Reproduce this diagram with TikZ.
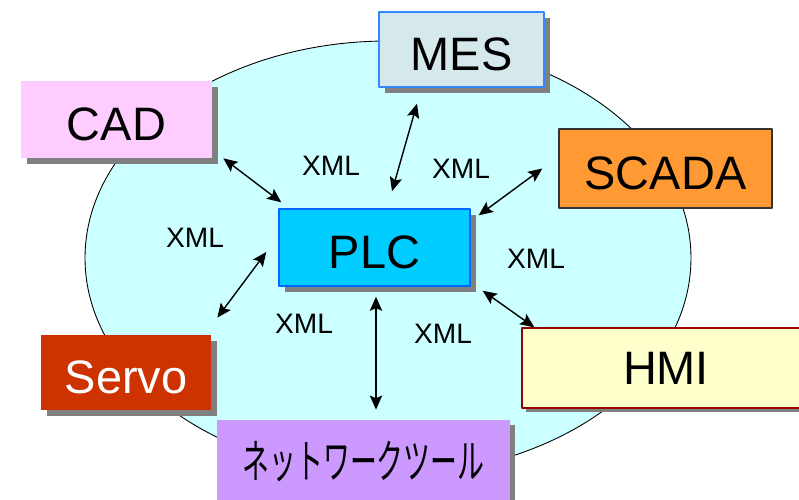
\documentclass[tikz,border=0pt]{standalone}
\usepackage{fontspec}
\setmainfont{Liberation Sans}
\newfontfamily\jpfont{Noto Sans CJK JP}
\usetikzlibrary{arrows.meta,shadows}
\definecolor{cloudfill}{HTML}{CCFFFF}
\definecolor{mesfill}{HTML}{D5E9EC}
\definecolor{mesline}{HTML}{3388FF}
\definecolor{cadfill}{HTML}{FFCCFF}
\definecolor{scadafill}{HTML}{FF9933}
\definecolor{plcfill}{HTML}{00CCFF}
\definecolor{plcline}{HTML}{0066FF}
\definecolor{servofill}{HTML}{CC3300}
\definecolor{hmifill}{HTML}{FFFFCC}
\definecolor{hmiline}{HTML}{990000}
\definecolor{netfill}{HTML}{CC99FF}
\definecolor{shadowgray}{HTML}{808080}
\tikzset{
	sysbox/.style={inner sep=0pt, text height=.85cm, text depth=0pt, font=\fontsize{26.7}{30}\selectfont},
	shade/.style={drop shadow={shadow xshift=#1, shadow yshift=-#1, fill=shadowgray, opacity=1}},
	shade/.default=.12cm,
	link/.style={{Stealth[length=8pt,width=7pt,inset=1.5pt]}-{Stealth[length=8pt,width=7pt,inset=1.5pt]}, line width=.8pt},
	xmltext/.style={font=\fontsize{16}{18}\selectfont}
}
\begin{document}
\begin{tikzpicture}[line join=round]
	\useasboundingbox (0,0) rectangle (15.98,9.98);
	% background cloud
	\draw[fill=cloudfill, line width=.5pt] (7.76,4.82) ellipse[x radius=6.06, y radius=4.34];
	% systems
	\node[sysbox, shade, draw=mesline, line width=.8pt, fill=mesfill, minimum width=3.3cm, minimum height=1.5cm] (mes) at (9.23,8.99) {MES};
	\node[sysbox, shade, fill=cadfill, minimum width=3.82cm, minimum height=1.54cm] (cad) at (2.33,7.59) {CAD};
	\node[sysbox, draw=black!80, line width=.8pt, fill=scadafill, minimum width=4.26cm, minimum height=1.58cm] (scada) at (13.31,6.61) {SCADA};
	\node[sysbox, shade, draw=plcline, line width=.8pt, fill=plcfill, minimum width=3.82cm, minimum height=1.54cm] (plc) at (7.49,5.03) {PLC};
	\node[sysbox, shade, fill=servofill, text=white, minimum width=3.4cm, minimum height=1.5cm] (servo) at (2.52,2.53) {Servo};
	\node[sysbox, shade=.08cm, draw=hmiline, line width=.8pt, fill=hmifill, minimum width=5.76cm, minimum height=1.6cm, text height=.67cm] (hmi) at (13.32,2.62) {HMI};
	\node[sysbox, shade=.1cm, fill=netfill, minimum width=5.86cm, minimum height=1.6cm, text height=.75cm, font=\jpfont\fontsize{26.4}{29}\selectfont] (net) at (7.27,0.78) {\scalebox{.58}[1]{ネットワークツール}};
	% links to the PLC
	\draw[link] ([xshift=.22cm]cad.south east) -- ([shift={(.06,.12)}]plc.north west);
	\draw[link] ([shift={(-.89,-.32)}]mes.south) -- ([shift={(.35,.34)}]plc.north);
	\draw[link] ([xshift=-.32cm]scada.west) -- ([shift={(.16,-.14)}]plc.north east);
	\draw[link] ([shift={(-.24,-.09)}]plc.west) -- ([shift={(.12,.34)}]servo.north east);
	\draw[link] ([shift={(.03,-.2)}]plc.south) -- ([shift={(.25,.2)}]net.north);
	\draw[link] ([shift={(.24,-.08)}]plc.south east) -- ([xshift=.26cm]hmi.north west);
	% message format on each link
	\foreach \p [count=\i] in {(6.62,6.66),(9.22,6.60),(3.90,5.22),(10.72,4.80),(6.08,3.50),(8.86,3.30)}
	\node[xmltext] (xml\i) at \p {XML};
\end{tikzpicture}
\end{document}
